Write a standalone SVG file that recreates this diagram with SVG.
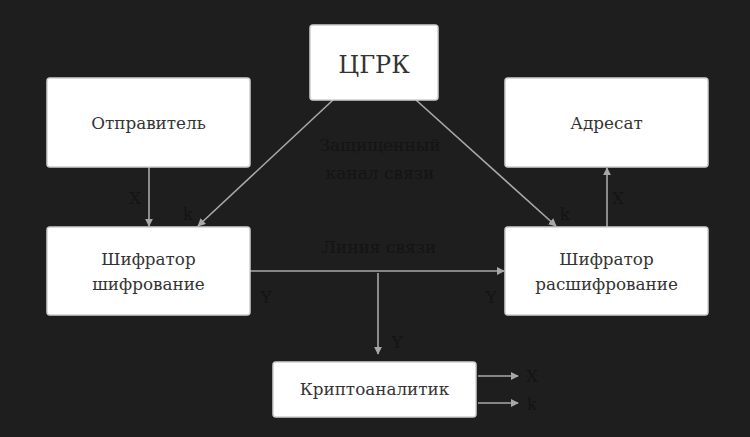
<svg xmlns="http://www.w3.org/2000/svg" width="750" height="437" viewBox="0 0 750 437">
<style>
.box{fill:#ffffff;stroke:#d0d0d0;stroke-width:1.5}
.t{font-family:"DejaVu Serif","Liberation Serif",serif;fill:#333333;text-anchor:middle;font-size:16.8px}
.l{font-family:"DejaVu Serif","Liberation Serif",serif;fill:#141414;font-size:17px;text-anchor:middle}
.c{stroke:#a8a8a8;stroke-width:1.6;fill:none;marker-end:url(#a)}
</style>
<defs>
<marker id="a" viewBox="0 0 10 10" refX="9" refY="5" markerWidth="5" markerHeight="5" orient="auto" markerUnits="strokeWidth">
<path d="M0,0 L10,5 L0,10 z" fill="#a8a8a8"/>
</marker>
</defs>
<rect width="750" height="437" fill="#1e1e1e"/>
<g id="connectors">
<line class="c" x1="149" y1="167" x2="149" y2="226"/>
<line class="c" x1="333" y1="100" x2="198" y2="226"/>
<line class="c" x1="416" y1="100" x2="556" y2="226"/>
<line class="c" x1="250" y1="271" x2="504" y2="271"/>
<line class="c" x1="378" y1="273" x2="378" y2="354"/>
<line class="c" x1="607" y1="227" x2="607" y2="168"/>
<line class="c" x1="478" y1="376" x2="518" y2="376"/>
<line class="c" x1="478" y1="403" x2="518" y2="403"/>
<text class="l" x="380" y="151">Защищенный</text>
<text class="l" x="380" y="179">канал связи</text>
<text class="l" x="379" y="253">Линия связи</text>
<text class="l" x="135" y="204">X</text>
<text class="l" x="188" y="220">k</text>
<text class="l" x="565" y="220">k</text>
<text class="l" x="618" y="204">X</text>
<text class="l" x="266" y="303">Y</text>
<text class="l" x="491" y="303">Y</text>
<text class="l" x="397" y="348">Y</text>
<text class="l" x="532" y="382">X</text>
<text class="l" x="532" y="410">k</text>
</g>
<g id="n-cgrk"><rect class="box" x="310" y="25" width="128" height="75" rx="3"/><text class="t" x="374" y="73" style="font-size:24px">ЦГРК</text></g>
<g id="n-sender"><rect class="box" x="47" y="78" width="203" height="89" rx="3"/><text class="t" x="148.5" y="129">Отправитель</text></g>
<g id="n-addr"><rect class="box" x="505" y="78" width="203" height="89" rx="3"/><text class="t" x="606.5" y="129">Адресат</text></g>
<g id="n-enc"><rect class="box" x="47" y="227" width="203" height="88" rx="3"/><text class="t" x="148.5" y="265">Шифратор</text><text class="t" x="148.5" y="290">шифрование</text></g>
<g id="n-dec"><rect class="box" x="505" y="227" width="203" height="88" rx="3"/><text class="t" x="606.5" y="265">Шифратор</text><text class="t" x="606.5" y="290">расшифрование</text></g>
<g id="n-crypt"><rect class="box" x="273" y="362" width="203" height="55" rx="3"/><text class="t" x="374.5" y="395">Криптоаналитик</text></g>
</svg>
